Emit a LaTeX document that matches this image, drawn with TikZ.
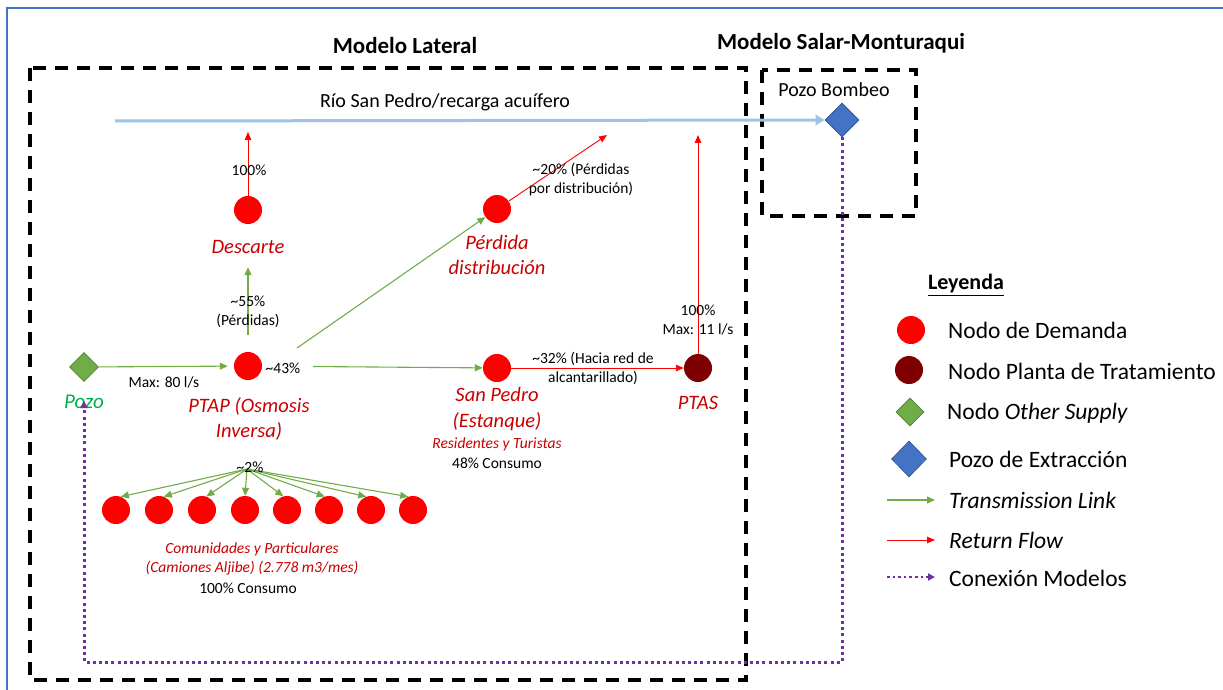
\documentclass[tikz,border=0pt]{standalone}
\usepackage{fontspec}
\setmainfont{Carlito}
\usetikzlibrary{arrows.meta,shapes.geometric}

\definecolor{demred}{HTML}{FF0000}
\definecolor{plantred}{HTML}{7F0000}
\definecolor{lblred}{HTML}{C80000}
\definecolor{supgreen}{HTML}{70AD47}
\definecolor{supgreenD}{HTML}{507E32}
\definecolor{txtgreen}{HTML}{00B050}
\definecolor{wellblue}{HTML}{4472C4}
\definecolor{wellblueD}{HTML}{2F528F}
\definecolor{riverblue}{HTML}{9DC3E6}
\definecolor{linkpurple}{HTML}{7030A0}
\definecolor{framblue}{HTML}{4472C4}

\tikzset{
  demand/.style={circle, fill=demred, minimum size=28pt, inner sep=0pt},
  plant/.style={circle, fill=plantred, minimum size=28pt, inner sep=0pt},
  supply/.style={diamond, fill=supgreen, draw=supgreenD, line width=0.6pt,
                 minimum width=29pt, minimum height=29pt, inner sep=0pt},
  well/.style={diamond, fill=wellblue, draw=wellblueD, line width=0.6pt,
               minimum width=34pt, minimum height=34pt, inner sep=0pt},
  tlink/.style={draw=supgreen, line width=1.1pt,
                -{Triangle[length=8pt,width=7pt]}},
  rflow/.style={draw=demred, line width=0.9pt,
                -{Triangle[length=8pt,width=6.5pt]}},
  conn/.style={draw=linkpurple, line width=3pt, dash pattern=on 3pt off 3.2pt,
               -{Triangle[length=7pt,width=7pt]}},
  river/.style={draw=riverblue, line width=3pt,
                -{Triangle[length=9pt,width=10pt]}},
  modelbox/.style={draw=black, line width=4pt, dash pattern=on 13pt off 9pt},
  lbl/.style={text=lblred, font=\fontsize{20.5}{25.5}\selectfont\itshape,
              align=center, inner sep=1pt},
  sublbl/.style={text=lblred, font=\fontsize{15.5}{19}\selectfont\itshape,
                 align=center, inner sep=1pt},
  note/.style={text=black, font=\fontsize{15.5}{19}\selectfont,
               align=center, inner sep=1pt},
  title/.style={font=\fontsize{23}{27}\selectfont\bfseries, inner sep=1pt},
  legtxt/.style={font=\fontsize{23.5}{27}\selectfont, anchor=west, inner sep=0pt},
}

\begin{document}
\begin{tikzpicture}[x=1pt, y=-1pt]
  \useasboundingbox (0,0) rectangle (1223,690);

  % page frame
  \draw[framblue, line width=2pt] (7,690) -- (7,8) -- (1223,8);

  % model boundaries
  \draw[modelbox] (30,68) rectangle (746,680);
  \draw[modelbox] (762,70) rectangle (916,216);
  \node[title] (tlat) at (405,46) {Modelo Lateral};
  \node[title] (tsal) at (841,43) {Modelo Salar-Monturaqui};

  % river and pumping well
  \node[well] (bombeo) at (842,120) {};
  \node[font=\fontsize{20}{24}\selectfont, inner sep=1pt] (bombeolbl) at (834,90) {Pozo Bombeo};
  \coordinate (rstart) at (115,121);
  \draw[river] (rstart) -- (bombeo.west);
  \node[font=\fontsize{20}{24}\selectfont, inner sep=1pt] (riverlbl) at (445,102) {Río San Pedro/recarga acuífero};

  % nodes
  \node[supply] (pozo) at (84,367) {};
  \node[text=txtgreen, font=\fontsize{21}{25}\selectfont\itshape, inner sep=1pt] (pozolbl) at (84,402) {Pozo};

  \node[demand] (ptap) at (248,366) {};
  \node[lbl] (ptaplbl) at (249,419) {PTAP (Osmosis\\Inversa)};

  \node[demand] (desc) at (248,210) {};
  \node[lbl] (desclbl) at (248,247) {Descarte};

  \node[demand] (perd) at (497,209) {};
  \node[lbl] (perdlbl) at (497,255) {Pérdida\\distribución};

  \node[demand] (sanp) at (497,368) {};
  \node[lbl] (sanplbl) at (497,409) {San Pedro\\(Estanque)};
  \node[sublbl] (sanpsub) at (497,444) {Residentes y Turistas};
  \node[note] (sanpcons) at (497,463) {48\% Consumo};

  \node[plant] (ptas) at (698,368) {};
  \node[lbl] (ptaslbl) at (698,403) {PTAS};

  % communities supplied by truck
  \foreach \i/\x in {1/116,2/159,3/202,4/245,5/287,6/329,7/371,8/413}
    \node[demand] (c\i) at (\x,510) {};
  \node[sublbl] (comlbl) at (252,558.5) {Comunidades y Particulares\\(Camiones Aljibe) (2.778 m3/mes)};
  \node[note] (comcons) at (248,588) {100\% Consumo};

  % transmission links
  \draw[tlink, shorten >=6pt] (pozo) -- (ptap);
  \node[note] (q80) at (164,382) {Max: 80 l/s};
  \node[note] (p43) at (283,368) {\textasciitilde43\%};
  \draw[tlink, shorten <=17pt, shorten >=43pt] (ptap) -- (desc);
  \node[note] (p55) at (248,311.5) {\textasciitilde55\%\\(Pérdidas)};
  \coordinate (ptapA) at (297,348);
  \draw[tlink] (ptapA) -- (perd);
  \draw[tlink, shorten <=51pt] (ptap) -- (sanp);

  \coordinate (fan) at (247,469);
  \foreach \i/\a in {1/70,2/70,3/72,4/90,5/105,6/108,7/110,8/110}
    \draw[tlink] (fan) -- (c\i.\a);
  \node[note] (p2) at (250,467) {\textasciitilde2\%};

  % return flows
  \coordinate (descout) at (248,132);
  \draw[rflow] (desc) -- (descout);
  \node[note] (p100a) at (249,170) {100\%};

  \coordinate (perdout) at (607,135);
  \draw[rflow] (perd) -- (perdout);
  \node[note] (p20) at (581,180) {\textasciitilde20\% (Pérdidas\\por distribución)};

  \draw[rflow] (sanp) -- (ptas);
  \node[note] (p32) at (593,368.5) {\textasciitilde32\% (Hacia red de\\alcantarillado)};

  \coordinate (ptasout) at (698,135);
  \draw[rflow] (ptas) -- (ptasout);
  \node[note] (p100b) at (698,320.5) {100\%\\Max: 11 l/s};

  % link between models
  \coordinate (cbot) at (84,662);
  \draw[conn] (bombeo.south) |- (cbot) -- ([yshift=9pt]pozolbl.south);

  % legend
  \node[font=\fontsize{22}{26}\selectfont\bfseries, inner sep=1pt] (leyenda) at (966,285) {\underline{Leyenda}};
  \node[demand] (ldem) at (911,330) {};
  \node[legtxt] (ldemt) at (948,330) {Nodo de Demanda};
  \node[plant] (lpla) at (909,370) {};
  \node[legtxt] (lplat) at (948,371) {Nodo Planta de Tratamiento};
  \node[supply, minimum width=28pt, minimum height=28pt] (lsup) at (910,412) {};
  \node[legtxt] (lsupt) at (947,413) {Nodo \textit{Other Supply}};
  \node[well, minimum width=35pt, minimum height=36pt] (lwel) at (909,459) {};
  \node[legtxt] (lwelt) at (949,459) {Pozo de Extracción};
  \coordinate (lt1) at (887,500); \coordinate (lt2) at (935,500);
  \draw[tlink] (lt1) -- (lt2);
  \node[legtxt] (ltlt) at (949,500) {\textit{Transmission Link}};
  \coordinate (lr1) at (887,540); \coordinate (lr2) at (935,540);
  \draw[rflow] (lr1) -- (lr2);
  \node[legtxt] (lrft) at (949,540) {\textit{Return Flow}};
  \coordinate (lc1) at (887,577); \coordinate (lc2) at (935,577);
  \draw[conn, line width=2.6pt, dash pattern=on 2.6pt off 3pt] (lc1) -- (lc2);
  \node[legtxt] (lcnt) at (949,578) {Conexión Modelos};
\end{tikzpicture}
\end{document}
